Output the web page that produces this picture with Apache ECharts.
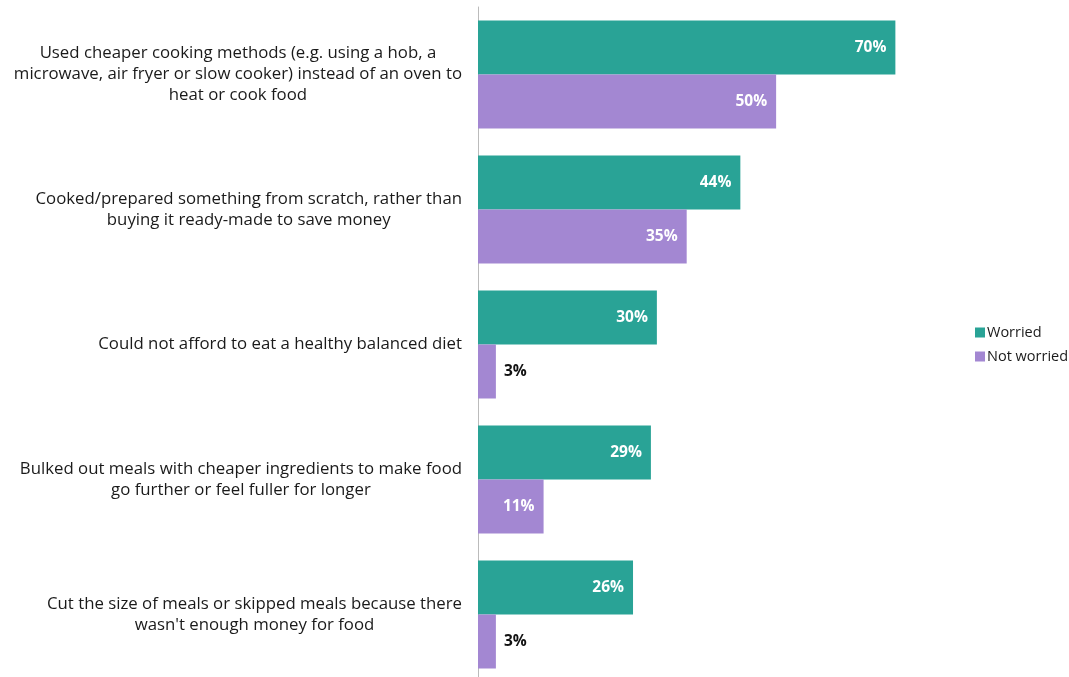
<!DOCTYPE html>
<html>
<head>
<meta charset="utf-8">
<script src="https://cdn.jsdelivr.net/npm/echarts@6/dist/echarts.min.js"></script>
<style>
  html, body { margin: 0; padding: 0; background: #fff; }
  #chart { width: 1069px; height: 677px; }
</style>
</head>
<body>
<div id="chart"></div>
<script>
// Actions taken, by level of worry
const categories = [
  'Used cheaper cooking methods (e.g. using a hob, a\nmicrowave, air fryer or slow cooker) instead of an oven to\nheat or cook food',
  'Cooked/prepared something from scratch, rather than\nbuying it ready-made to save money',
  'Could not afford to eat a healthy balanced diet',
  'Bulked out meals with cheaper ingredients to make food\ngo further or feel fuller for longer',
  "Cut the size of meals or skipped meals because there\nwasn't enough money for food"
];
const worried = [70, 44, 30, 29, 26];
const notWorried = [50, 35, 3, 11, 3];
const seriesNames = ['Worried', 'Not worried'];

const FONT = '"Open Sans", "Noto Sans", sans-serif';

// Small values get their label outside the bar in dark text
function barData(values) {
  return values.map(v => v < 8
    ? { value: v, label: { position: 'right', color: '#111', distance: 8 } }
    : { value: v });
}

const labelStyle = {
  show: true,
  position: 'insideRight',
  distance: 9,
  color: '#fff',
  fontFamily: FONT,
  fontWeight: 'bold',
  fontSize: 15.5,
  formatter: p => p.value + '%'
};

const chart = echarts.init(document.getElementById('chart'));
chart.setOption({
  animation: false,
  backgroundColor: '#fff',
  grid: { left: 478, width: 477, top: 7, height: 675, containLabel: false, outerBoundsMode: 'none' },
  xAxis: {
    type: 'value', min: 0, max: 80,
    show: false
  },
  yAxis: {
    type: 'category',
    data: categories,
    inverse: true,
    axisLine: { show: true, lineStyle: { color: '#bbbbbb', width: 1 } },
    axisTick: { show: false },
    axisLabel: {
      margin: 16,
      align: 'right',
      color: '#1a1a1a',
      fontFamily: FONT,
      fontSize: 16.8,
      lineHeight: 21,
      formatter: v => '{c|' + v + '}',
      rich: { c: { align: 'center', fontFamily: FONT, fontSize: 16.8, lineHeight: 21, color: '#1a1a1a' } }
    }
  },
  legend: {
    orient: 'vertical',
    left: 970,
    top: 320,
    itemWidth: 10,
    itemHeight: 10,
    itemGap: 9,
    icon: 'rect',
    textStyle: { fontFamily: FONT, fontSize: 14.5, color: '#1a1a1a', padding: [0, 0, 0, -3] },
    data: seriesNames
  },
  series: [
    {
      name: seriesNames[0], type: 'bar',
      data: barData(worried),
      itemStyle: { color: '#29a396' },
      barCategoryGap: '20%', barGap: '0%',
      label: labelStyle
    },
    {
      name: seriesNames[1], type: 'bar',
      data: barData(notWorried),
      itemStyle: { color: '#a387d2' },
      barCategoryGap: '20%', barGap: '0%',
      label: labelStyle
    }
  ]
});
</script>
</body>
</html>
